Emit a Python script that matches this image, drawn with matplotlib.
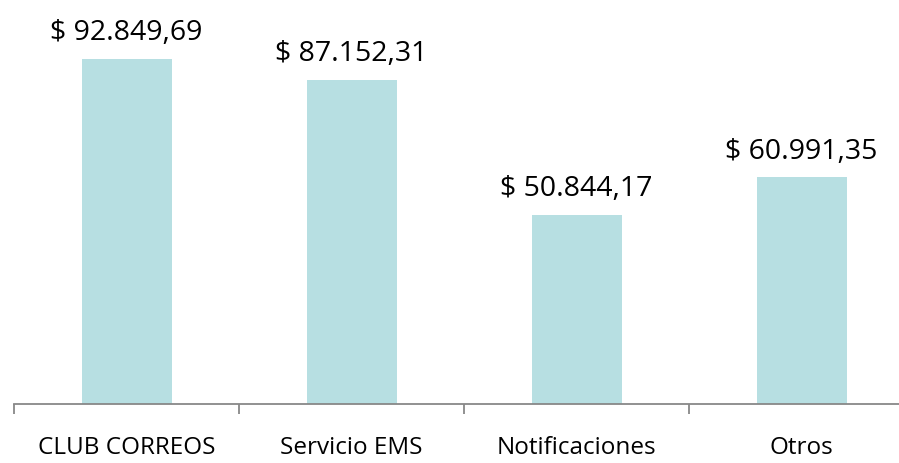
import matplotlib
matplotlib.use("Agg")
import matplotlib.pyplot as plt
import numpy as np

categories = ["CLUB CORREOS", "Servicio EMS", "Notificaciones", "Otros"]
values = [92849.69, 87152.31, 50844.17, 60991.35]
labels = ["$ 92.849,69", "$ 87.152,31", "$ 50.844,17", "$ 60.991,35"]

plt.rcParams['font.family'] = ['Open Sans', 'DejaVu Sans']

W, H = 899, 463
fig = plt.figure(figsize=(W / 100, H / 100), dpi=100)
ax = fig.add_axes([14 / W, (H - 404) / H, 900 / W, 404 / H])

x = np.arange(len(categories))
ax.bar(x, values, width=0.4, color="#B7DFE2")
for xi, v, lab in zip(x, values, labels):
    ax.annotate(lab, (xi, v), xytext=(0, 8.5), textcoords="offset points",
                ha="center", va="bottom", fontsize=20.5, color="black")

ax.set_xlim(-0.5, 3.5)
ax.set_ylim(0, 404 / 3.716 * 1000)
ax.set_xticks(x)
ax.set_xticklabels(categories, fontsize=17.5)
ax.set_xticks(np.arange(-0.5, 4.0, 1.0), minor=True)
ax.tick_params(axis="x", which="major", length=0, pad=23)
ax.tick_params(axis="x", which="minor", length=7, color="#888888", width=1.3)
ax.set_yticks([])
for s in ["top", "right", "left"]:
    ax.spines[s].set_visible(False)
ax.spines["bottom"].set_color("#888888")
ax.spines["bottom"].set_linewidth(1.3)

fig.savefig("out.png", dpi=100)
